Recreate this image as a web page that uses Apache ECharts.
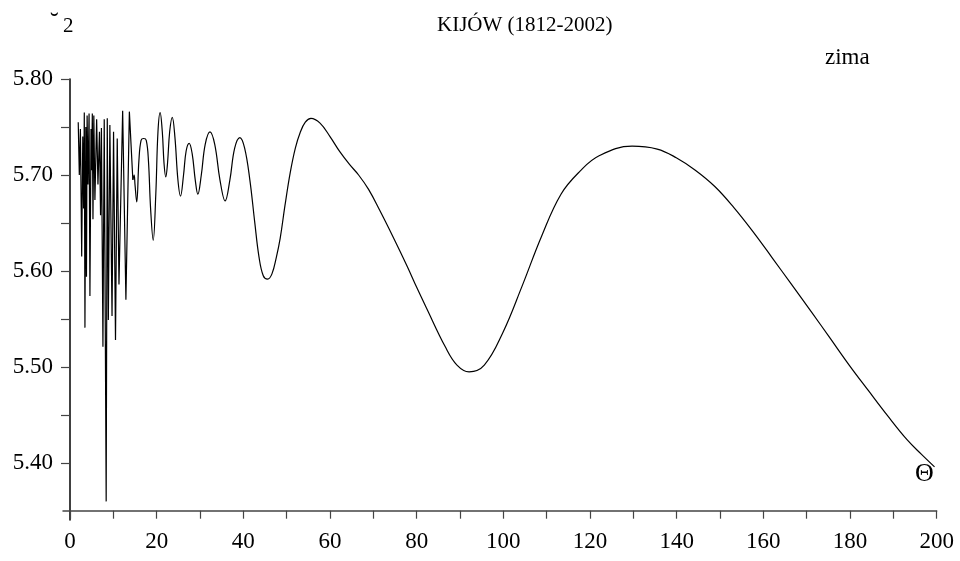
<!DOCTYPE html>
<html>
<head>
<meta charset="utf-8">
<script src="https://cdn.jsdelivr.net/npm/echarts@6/dist/echarts.min.js"></script>
<style>
html,body{margin:0;padding:0;background:#fff;}
#chart{width:960px;height:561px;}
</style>
</head>
<body>
<div id="chart"></div>
<script>
// Dense oscillating part (theta < 15)
var xDense = [1.9,2.15,2.4,2.7,2.95,3.15,3.3,3.45,3.65,3.8,3.95,4.15,4.4,4.6,4.85,5.0,5.15,5.3,5.5,5.75,6.15,6.45,6.8,7.05,7.25,7.6,7.9,8.35,8.6,8.85,9.2,9.7,10.05,10.5,10.9,11.3,12.15,12.9,13.7,14.5];
var yDense = [5.755,5.700,5.748,5.615,5.740,5.665,5.765,5.541,5.750,5.594,5.762,5.690,5.764,5.574,5.748,5.705,5.764,5.654,5.762,5.674,5.758,5.690,5.745,5.658,5.749,5.521,5.758,5.360,5.759,5.549,5.752,5.553,5.745,5.528,5.738,5.586,5.767,5.570,5.766,5.695];
// Smooth wave part
var xWave = [14.5,14.8,15.0,15.4,15.9,16.4,17.0,17.6,18.1,18.6,19.2,19.8,20.3,20.8,21.3,21.7,22.1,22.5,23.0,23.6,24.2,24.9,25.5,26.2,26.8,27.5,28.2,28.9,29.5,30.3,31.2,32.3,33.4,34.6,35.8,36.9,38.0,39.2,40.3,41.5,42.6,43.6,44.6,45.6,46.6,47.6,48.5,49.6,50.8,52.0,53.1,54.3,55.6,57.7,60.0,62.3,64.5,66.6,68.9,71.5,74.5,77.8,80.0,82.2,86.6,89.3,92.1,95.6,99.9,104.3,108.8,113.3,117.7,122.1,129.7,135.5,139.9,144.3,148.8,153.2,157.6,162.0,166.5,171.0,175.4,179.8,184.3,188.7,193.2,196.5,199.5];
var yWave = [5.695,5.700,5.690,5.672,5.715,5.736,5.738,5.736,5.715,5.665,5.632,5.680,5.745,5.765,5.745,5.712,5.698,5.712,5.745,5.760,5.740,5.695,5.678,5.700,5.725,5.733,5.722,5.695,5.680,5.700,5.732,5.745,5.732,5.695,5.673,5.695,5.728,5.739,5.728,5.695,5.652,5.615,5.595,5.5915,5.597,5.614,5.634,5.668,5.702,5.728,5.744,5.755,5.759,5.754,5.740,5.724,5.711,5.700,5.685,5.663,5.636,5.605,5.583,5.562,5.521,5.502,5.495,5.502,5.536,5.584,5.636,5.680,5.704,5.720,5.730,5.727,5.718,5.705,5.688,5.666,5.641,5.614,5.586,5.558,5.530,5.502,5.475,5.449,5.424,5.409,5.396];
var xTicks = [0,10,20,30,40,50,60,70,80,90,100,110,120,130,140,150,160,170,180,190,200];
var xLabels = [0,20,40,60,80,100,120,140,160,180,200];
var yTicks = [5.40,5.45,5.50,5.55,5.60,5.65,5.70,5.75,5.80];
var yLabels = [5.40,5.50,5.60,5.70,5.80];

function pairs(xs, ys){ var out=[]; for(var i=0;i<xs.length;i++){ out.push([xs[i], ys[i]]); } return out; }

var FONT = '"Liberation Serif", "DejaVu Serif", serif';
var chart = echarts.init(document.getElementById('chart'), null, {renderer:'canvas'});
chart.setOption({
  animation: false,
  backgroundColor: '#fff',
  grid: {left: 63, right: 23.3, top: 79, bottom: 41, containLabel: false},
  xAxis: {
    type: 'value', min: -1.615, max: 200,
    offset: -9.3,
    axisLine: {onZero: false, lineStyle: {color: '#444', width: 1.5}},
    axisTick: {show: true, inside: false, length: 8, customValues: xTicks, lineStyle: {color: '#444', width: 1.2}},
    axisLabel: {customValues: xLabels, color: '#000', fontFamily: FONT, fontSize: 23, margin: 20},
    splitLine: {show: false}
  },
  yAxis: {
    type: 'value', min: 5.3406, max: 5.80,
    offset: -7,
    axisLine: {onZero: false, lineStyle: {color: '#111', width: 1.6}},
    axisTick: {show: true, inside: false, length: 9, customValues: yTicks, lineStyle: {color: '#444', width: 1.2}},
    axisLabel: {customValues: yLabels, color: '#000', fontFamily: FONT, fontSize: 23, margin: 17,
      formatter: function(v){ return Number(v).toFixed(2); }},
    splitLine: {show: false}
  },
  graphic: [
    {type:'text', left: 437, top: 15, style:{text:'KIJÓW (1812-2002)', fontFamily: FONT, fontSize: 21, fill:'#000'}},
    {type:'text', left: 825, top: 46, style:{text:'zima', fontFamily: FONT, fontSize: 23, fill:'#000'}},
    {type:'text', left: 915, top: 461, style:{text:'Θ', fontFamily: FONT, fontSize: 26, fill:'#000'}},
    {type:'text', left: 50, top: 10, style:{text:'˘', fontFamily: FONT, fontSize: 26, fill:'#000'}},
    {type:'text', left: 63, top: 16, style:{text:'2', fontFamily: FONT, fontSize: 21, fill:'#000'}}
  ],
  series: [
    {type:'line', data: pairs(xDense, yDense), showSymbol:false, smooth:false,
      lineStyle:{color:'#000', width:1.2}},
    {type:'line', data: pairs(xWave, yWave), showSymbol:false, smooth:0.4,
      lineStyle:{color:'#000', width:1.2}}
  ]
});
</script>
</body>
</html>
